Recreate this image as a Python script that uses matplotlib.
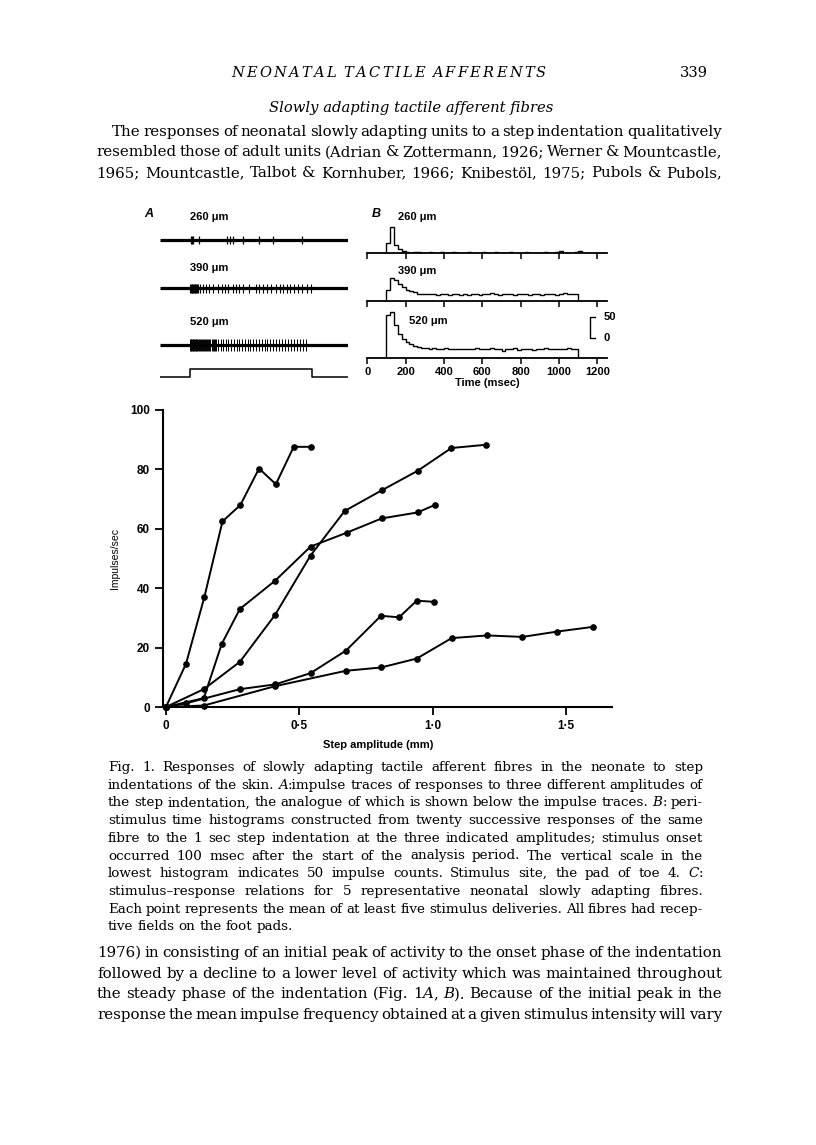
import numpy as np
import matplotlib
matplotlib.use("Agg")
import matplotlib.pyplot as plt

W, H = 816, 1145

# ---------------- data ----------------
# Panel A: spike times (msec from start of trace), step indentation on/off
trace_ms = 1540
stim_on, stim_off = 246, 1246
spikes_260 = [252, 262, 272, 322, 552, 574, 601, 678, 814, 929, 1161]
spikes_390 = [248, 254, 260, 266, 272, 278, 284, 290, 297, 305, 313,
              328, 355, 377, 404, 437, 478, 505, 533, 560, 596, 623, 650,
              683, 732, 787, 814, 847, 874, 907, 951, 984, 1011, 1038,
              1066, 1098, 1134, 1161, 1202, 1238]
spikes_520 = [248, 253, 258, 263, 268, 273, 279, 285, 291, 297, 304, 311,
              318, 326, 334, 342, 350, 359, 368, 377, 386, 395, 404, 413,
              422, 431, 440, 449, 458, 474, 497, 518, 540, 560, 583, 604,
              628, 650, 672, 695, 717, 741, 765, 786, 810, 834, 857, 879,
              905, 928, 951, 975, 998, 1021, 1046, 1070, 1095, 1120, 1145,
              1170, 1200]

# Panel B: PSTH counts, 20 msec bins from 0 to 1240 msec
bin_ms = 20
hist_260 = [0, 0, 0, 0, 0,  23, 60, 19, 10, 4,  2, 1, 2, 3, 1,  1, 2, 1, 1, 2,
            1, 1, 2, 1, 1,  1, 2, 1, 1, 1,  2, 1, 1, 2, 1,  1, 1, 2, 1, 1,
            1, 2, 1, 1, 1,  1, 2, 1, 1, 2,  4, 1, 1, 1, 2,  4, 1, 1, 0, 1,
            1, 0]
hist_390 = [0, 0, 0, 0, 0,  25, 53, 48, 40, 32,  26, 23, 20, 17, 16,
            15, 16, 15, 14, 16,  15, 14, 15, 16, 14,  15, 14, 16, 15, 14,
            16, 15, 19, 15, 14,  16, 15, 17, 14, 16,  15, 16, 14, 16, 15,
            14, 16, 15, 15, 14,  16, 18, 15, 16, 15,  1, 0, 1, 0, 0,
            0, 0]
hist_520 = [0, 0, 0, 0, 0,  98, 105, 75, 55, 44,  38, 32, 28, 25, 23,
            22, 21, 23, 21, 20,  22, 20, 21, 20, 21,  20, 21, 20, 22, 20,
            21, 20, 22, 20, 21,  17, 21, 20, 22, 19,  20, 21, 20, 19, 21,
            20, 22, 20, 21, 20,  21, 20, 22, 21, 20,  0, 0, 0, 0, 0,
            0, 0]
time_ticks = [0, 200, 400, 600, 800, 1000, 1200]

# Panel C: stimulus-response relations (step amplitude mm, impulses/sec)
f1_x = [0, 0.075, 0.144, 0.212, 0.279, 0.349, 0.412, 0.479, 0.545]
f1_y = [0, 14.5, 37, 62.5, 68, 80.3, 75, 87.6, 87.6]
f2_x = [0, 0.142, 0.277, 0.409, 0.542, 0.67, 0.81, 0.943, 1.07, 1.2]
f2_y = [0, 6, 15.2, 31, 51, 66, 73, 79.5, 87.2, 88.3]
f3_x = [0, 0.142, 0.209, 0.277, 0.409, 0.542, 0.678, 0.809, 0.943, 1.007]
f3_y = [0, 3, 21.2, 33, 42.5, 54, 58.7, 63.5, 65.5, 68]
f4_x = [0, 0.074, 0.277, 0.409, 0.542, 0.675, 0.806, 0.874, 0.94, 1.006]
f4_y = [0, 1.2, 6, 7.6, 11.4, 19, 30.7, 30.2, 35.8, 35.4]
f5_x = [0, 0.142, 0.409, 0.675, 0.806, 0.94, 1.071, 1.205, 1.336, 1.467, 1.602]
f5_y = [0, 0.5, 7, 12.2, 13.3, 16.3, 23.2, 24.1, 23.6, 25.4, 27]
amp_ticks = [0, 0.5, 1.0, 1.5]
amp_labels = ["0", "0\u00b75", "1\u00b70", "1\u00b75"]
rate_ticks = [0, 20, 40, 60, 80, 100]

# page text
header = "NEONATAL TACTILE AFFERENTS"
page_no = "339"
section = "Slowly adapting tactile afferent fibres"
body_top = [
    "The responses of neonatal slowly adapting units to a step indentation qualitatively",
    "resembled those of adult units (Adrian & Zottermann, 1926; Werner & Mountcastle,",
    "1965; Mountcastle, Talbot & Kornhuber, 1966; Knibest\u00f6l, 1975; Pubols & Pubols,",
]
caption = [
    "Fig. 1. Responses of slowly adapting tactile afferent fibres in the neonate to step",
    "indentations of the skin. {A}:impulse traces of responses to three different amplitudes of",
    "the step indentation, the analogue of which is shown below the impulse traces. {B}: peri-",
    "stimulus time histograms constructed from twenty successive responses of the same",
    "fibre to the 1 sec step indentation at the three indicated amplitudes; stimulus onset",
    "occurred 100 msec after the start of the analysis period. The vertical scale in the",
    "lowest histogram indicates 50 impulse counts. Stimulus site, the pad of toe 4. {C}:",
    "stimulus\u2013response relations for 5 representative neonatal slowly adapting fibres.",
    "Each point represents the mean of at least five stimulus deliveries. All fibres had recep-",
    "tive fields on the foot pads.",
]
body_bottom = [
    "1976) in consisting of an initial peak of activity to the onset phase of the indentation",
    "followed by a decline to a lower level of activity which was maintained throughout",
    "the steady phase of the indentation (Fig. 1{A}, {B}). Because of the initial peak in the",
    "response the mean impulse frequency obtained at a given stimulus intensity will vary",
]


def fx(x):
    return x / W


def fy(y):
    return 1 - y / H


fig = plt.figure(figsize=(W / 100, H / 100), dpi=100)
fig.patch.set_facecolor("white")
renderer = fig.canvas.get_renderer()

SERIF = "DejaVu Serif"
SANS = "Liberation Sans"


def split_runs(word):
    # "{A}:" -> [("A", "italic"), (":", "normal")]
    runs = []
    buf = ""
    ital = False
    for ch in word:
        if ch == "{":
            if buf:
                runs.append((buf, "normal"))
            buf, ital = "", True
        elif ch == "}":
            runs.append((buf, "italic"))
            buf, ital = "", False
        else:
            buf += ch
    if buf:
        runs.append((buf, "italic" if ital else "normal"))
    return runs


def run_width(text, size, style):
    t = fig.text(0, 0, text, fontsize=size, family=SERIF, style=style)
    w = t.get_window_extent(renderer).width
    t.remove()
    return w


def put_line(line, x0, x1, ybase, size, justify=True):
    words = [split_runs(w) for w in line.split()]
    widths = [[run_width(t, size, s) for t, s in runs] for runs in words]
    total = sum(sum(ws) for ws in widths)
    if justify and len(words) > 1:
        gap = (x1 - x0 - total) / (len(words) - 1)
    else:
        gap = 0.3 * size * 100 / 72
    x = x0
    for runs, ws in zip(words, widths):
        for (t, s), w in zip(runs, ws):
            fig.text(fx(x), fy(ybase), t, fontsize=size, family=SERIF,
                     style=s, va="baseline", ha="left")
            x += w
        x += gap


def put_spaced(text, x0, x1, ybase, size, style="italic"):
    words = text.split(" ")
    cw = [[run_width(c, size, style) for c in w] for w in words]
    total = sum(sum(c) for c in cw)
    n_in = sum(len(w) - 1 for w in words)
    n_sp = len(words) - 1
    unit = (x1 - x0 - total) / (n_in + 3 * n_sp)
    x = x0
    for w, ws in zip(words, cw):
        for c, cwid in zip(w, ws):
            fig.text(fx(x), fy(ybase), c, fontsize=size, family=SERIF,
                     style=style, va="baseline")
            x += cwid + unit
        x += 2 * unit


# ---------------- page text ----------------
put_spaced(header, 231, 546, 77, 10.5)
fig.text(fx(708), fy(77), page_no, fontsize=10.5, family=SERIF, ha="right",
         va="baseline")
fig.text(fx(411), fy(112), section, fontsize=10.6, family=SERIF,
         style="italic", ha="center", va="baseline")
for i, line in enumerate(body_top):
    put_line(line, 112 if i == 0 else 96, 722, 136 + 20.5 * i, 10.8)
for i, line in enumerate(caption):
    put_line(line, 108, 703, 771 + 17.7 * i, 9.7, justify=i < len(caption) - 1)
for i, line in enumerate(body_bottom):
    put_line(line, 97, 722, 957 + 20.6 * i, 10.8)

lab = dict(family=SANS, fontweight="bold", fontsize=8)

# ---------------- panel A ----------------
fig.text(fx(144), fy(214), "A", family=SANS, fontweight="bold",
         style="italic", fontsize=9, va="center")
traces = [(spikes_260, 240, 4.0, 0.9, "260 \u03bcm", 217),
          (spikes_390, 288, 4.5, 0.8, "390 \u03bcm", 268),
          (spikes_520, 345, 6.0, 0.7, "520 \u03bcm", 322)]
for spk, base, hh, lw, name, ylab in traces:
    ax = fig.add_axes([fx(160), fy(base + 8), fx(348) - fx(160), 16 / H])
    ax.set_xlim(0, trace_ms)
    ax.set_ylim(-8, 8)
    ax.axis("off")
    ax.plot([0, trace_ms], [0, 0], color="black", lw=2.3,
            solid_capstyle="butt")
    ax.vlines(spk, -hh, hh, color="black", lw=lw)
    fig.text(fx(190), fy(ylab), name, va="center", **lab)

ax = fig.add_axes([fx(160), fy(381), fx(348) - fx(160), 16 / H])
ax.set_xlim(0, trace_ms)
ax.set_ylim(-0.5, 1.5)
ax.axis("off")
ax.plot([0, stim_on, stim_on, stim_off, stim_off, trace_ms],
        [0, 0, 1, 1, 0, 0], color="black", lw=1.1)

# ---------------- panel B ----------------
fig.text(fx(372), fy(214), "B", family=SANS, fontweight="bold",
         style="italic", fontsize=9, va="center")
edges = np.arange(0, bin_ms * len(hist_520) + 1, bin_ms)
psth = [(hist_260, 253, "260 \u03bcm", 398, 217),
        (hist_390, 301, "390 \u03bcm", 398, 271),
        (hist_520, 358, "520 \u03bcm", 409, 321)]
px_per_count = 0.434
ymax = 112
for k, (counts, base, name, xl, yl) in enumerate(psth):
    hpx = ymax * px_per_count
    ax = fig.add_axes([fx(367.3), fy(base), fx(607) - fx(367.3), hpx / H])
    ax.patch.set_alpha(0)
    ax.set_xlim(0, 1250)
    ax.set_ylim(0, ymax)
    ax.stairs(counts, edges, color="black", lw=1.0)
    for s in ["top", "right", "left"]:
        ax.spines[s].set_visible(False)
    ax.spines["bottom"].set_linewidth(1.3)
    ax.set_yticks([])
    ax.set_xticks(time_ticks)
    ax.tick_params(axis="x", direction="out", length=4.5, width=1.1, pad=2)
    if k == 2:
        ax.set_xticklabels([str(t) for t in time_ticks], **lab)
        ax.set_xlabel("Time (msec)", labelpad=1, **lab)
        # 50 count vertical scale
        ax.plot([1190, 1162, 1162, 1190], [95, 95, 45, 45], color="black",
                lw=1.0, clip_on=False)
        ax.text(1230, 95, "50", va="center", ha="left", clip_on=False, **lab)
        ax.text(1230, 45, "0", va="center", ha="left", clip_on=False, **lab)
    else:
        ax.set_xticklabels([])
    fig.text(fx(xl), fy(yl), name, va="center", **lab)

# ---------------- panel C ----------------
axc = fig.add_axes([fx(163), fy(707), fx(612) - fx(163), 297 / H])
axc.patch.set_alpha(0)
for xs, ys in [(f1_x, f1_y), (f2_x, f2_y), (f3_x, f3_y), (f4_x, f4_y),
               (f5_x, f5_y)]:
    axc.plot(xs, ys, color="black", lw=1.4, marker="o", markersize=3.8,
             clip_on=False)
axc.set_xlim(-0.011, 1.672)
axc.set_ylim(0, 100)
for s in ["top", "right"]:
    axc.spines[s].set_visible(False)
for s in ["left", "bottom"]:
    axc.spines[s].set_linewidth(1.5)
axc.set_xticks(amp_ticks)
axc.set_xticklabels(amp_labels, family=SANS, fontweight="bold", fontsize=8.5)
axc.set_yticks(rate_ticks)
axc.set_yticklabels([str(v) for v in rate_ticks], family=SANS,
                    fontweight="bold", fontsize=8.5)
axc.tick_params(direction="out", length=5.5, width=1.3, pad=4)
axc.set_xlabel("Step amplitude (mm)", family=SANS, fontweight="bold",
               fontsize=8, labelpad=6)
axc.xaxis.set_label_coords((378 - 163) / (612 - 163), -0.11)
axc.set_ylabel("Impulses/sec", family=SANS, fontsize=7.5)
axc.yaxis.set_label_coords(-(163 - 120) / (612 - 163), 0.5)

fig.savefig("out.png", dpi=100, facecolor="white")
